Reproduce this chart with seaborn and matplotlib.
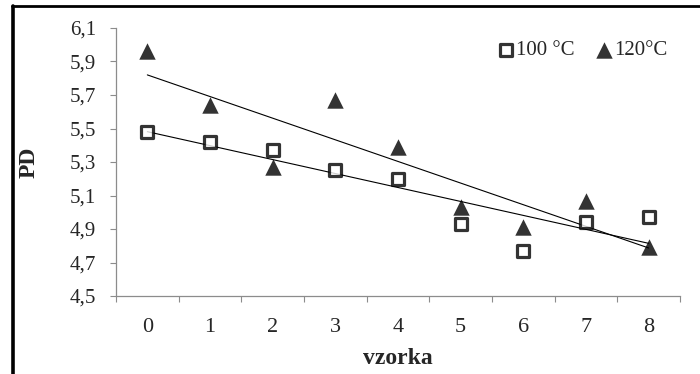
import matplotlib
matplotlib.use("Agg")
import matplotlib.pyplot as plt
from matplotlib.lines import Line2D
import seaborn as sns
import numpy as np

# values
vzorka = [0, 1, 2, 3, 4, 5, 6, 7, 8]
pd_100 = [5.48, 5.42, 5.37, 5.25, 5.20, 4.93, 4.77, 4.94, 4.97]
pd_120 = [5.96, 5.64, 5.27, 5.67, 5.39, 5.03, 4.91, 5.07, 4.79]
labels = ["100 \u00b0C", "120\u00b0C"]
ytick_vals = [4.5, 4.7, 4.9, 5.1, 5.3, 5.5, 5.7, 5.9, 6.1]
ytick_labels = ["4,5", "4,7", "4,9", "5,1", "5,3", "5,5", "5,7", "5,9", "6,1"]
xtick_labels = ["0", "1", "2", "3", "4", "5", "6", "7", "8"]

sns.set_style("white")
plt.rcParams["font.family"] = ["Liberation Serif", "DejaVu Serif"]

fig = plt.figure(figsize=(7, 3.74), dpi=100)
ax = fig.add_axes([116 / 700, 1 - 296 / 374, 564 / 700, 268 / 374])

gray = "#8c8c8c"

# 100 °C - open squares with linear trend
sns.regplot(x=vzorka, y=pd_100, ax=ax, ci=None, marker="s", label=labels[0],
            scatter_kws=dict(s=85, facecolor="white", edgecolor="black",
                             linewidths=2.3, zorder=3),
            line_kws=dict(color="black", lw=0.8, zorder=2))

# 120 °C - filled triangles with linear trend
sns.regplot(x=vzorka, y=pd_120, ax=ax, ci=None, marker="^", label=labels[1],
            scatter_kws=dict(s=140, facecolor="black", edgecolor="black",
                             linewidths=0, zorder=3),
            line_kws=dict(color="black", lw=0.8, zorder=2))

ax.set_xlim(-0.5, 8.5)
ax.set_ylim(4.5, 6.1)

ax.set_yticks(ytick_vals)
ax.set_yticklabels(ytick_labels, fontsize=15)
ax.set_xticks(vzorka)
ax.set_xticklabels(xtick_labels, fontsize=16)
ax.set_xticks(np.arange(-0.5, 9.0, 1.0), minor=True)

ax.tick_params(axis="y", which="major", direction="out", length=4.5, width=0.8,
               color=gray, pad=10, left=True)
ax.tick_params(axis="x", which="major", length=0, pad=16, bottom=True)
ax.tick_params(axis="x", which="minor", direction="out", length=4.5, width=0.8,
               color=gray, bottom=True)

for side in ["top", "right"]:
    ax.spines[side].set_visible(False)
for side in ["left", "bottom"]:
    ax.spines[side].set_color(gray)
    ax.spines[side].set_linewidth(0.9)

ax.set_ylabel("PD", fontsize=17, fontweight="bold")
ax.yaxis.set_label_coords(-(116 - 40) / 564, 0.5)
ax.set_xlabel("vzorka", fontsize=17, fontweight="bold")
ax.xaxis.set_label_coords(0.5, -(348 - 296) / 268)

ax.legend(loc="upper right", bbox_to_anchor=(1.0, 1.0), ncol=2, frameon=False,
          fontsize=15, handletextpad=0.0, columnspacing=0.9, scatterpoints=1,
          borderaxespad=0.2, handlelength=1.0)

# thick frame around the picture (left and top edges visible)
fig.add_artist(Line2D([13 / 700, 13 / 700], [-0.1, 1 - 5.5 / 374],
                      transform=fig.transFigure, color="black", lw=2.6))
fig.add_artist(Line2D([12 / 700, 1.1], [1 - 5.5 / 374, 1 - 5.5 / 374],
                      transform=fig.transFigure, color="black", lw=2.0))

fig.savefig("out.png", dpi=100)
